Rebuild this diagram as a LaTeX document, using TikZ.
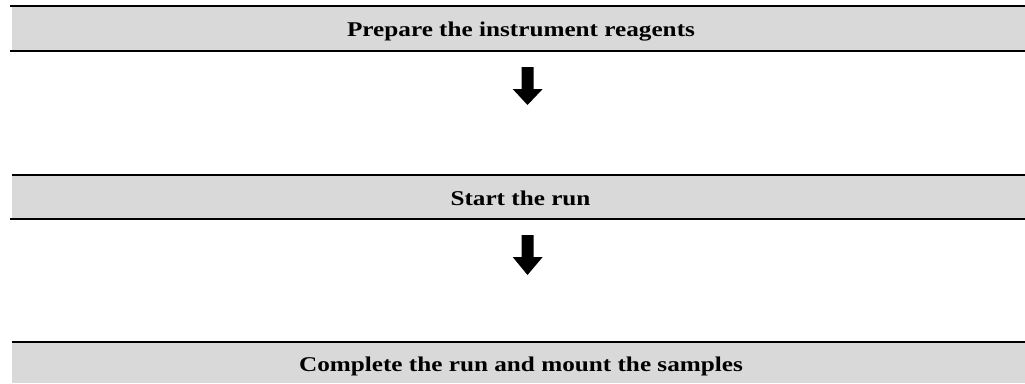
\documentclass[tikz,border=0pt]{standalone}
\usepackage{fontspec}
\setmainfont{Liberation Serif}
\definecolor{bandgray}{RGB}{217,217,217}
\tikzset{
  band/.style={fill=bandgray, draw=none},
  rule/.style={line width=2pt, black},
  label/.style={font=\fontsize{21}{25}\selectfont\bfseries, inner sep=0pt, anchor=base},
  blockarrow/.style={fill=black, draw=none}
}
\newcommand{\widetxt}[1]{\scalebox{1.2}[1]{#1}}
\begin{document}
\begin{tikzpicture}[x=1pt,y=-1pt]
\useasboundingbox (0,0) rectangle (1025,383);
% box 1
\fill[band] (12,7) rectangle (1025,50);
\draw[rule] (10,6) -- (1025,6);
\draw[rule] (10,50.5) -- (1025,50.5);
\node[label] (t1) at (521,36.5) {\widetxt{Prepare the instrument reagents}};
% arrow 1
\fill[blockarrow] (521.5,67) -- (533.5,67) -- (533.5,89) -- (542.7,89) -- (527.5,105) -- (512.7,89) -- (521.5,89) -- cycle;
% box 2
\fill[band] (12,176) rectangle (1025,218);
\draw[rule] (12,175) -- (1025,175);
\draw[rule] (10,218.5) -- (1025,218.5);
\node[label] (t2) at (520.5,205.5) {\widetxt{Start the run}};
% arrow 2
\fill[blockarrow] (521.5,235) -- (533.5,235) -- (533.5,257) -- (542.7,257) -- (527.5,275) -- (512.7,257) -- (521.5,257) -- cycle;
% box 3
\fill[band] (12,342.5) rectangle (1025,383);
\draw[rule] (12,341.5) -- (1025,341.5);
\node[label] (t3) at (521,371.5) {\widetxt{Complete the run and mount the samples}};
\end{tikzpicture}
\end{document}
